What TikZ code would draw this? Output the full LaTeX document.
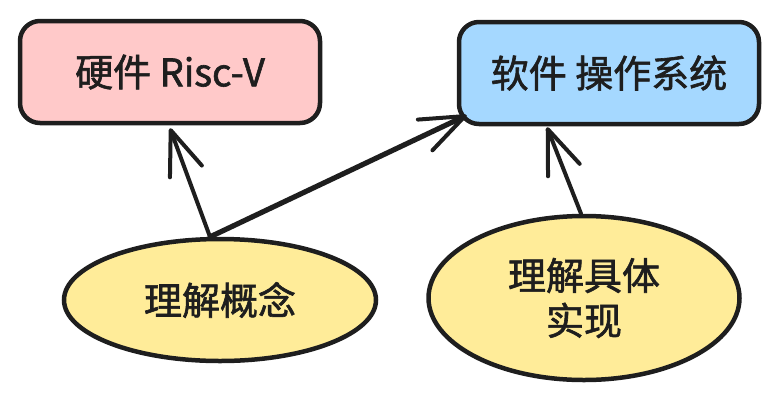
\documentclass[tikz,border=0pt]{standalone}
\usepackage{fontspec}
\newfontfamily\cjk{Noto Sans CJK SC}[FakeBold=1.6]
\usetikzlibrary{shapes.geometric,arrows.meta}
\definecolor{ink}{HTML}{1E1E1E}
\definecolor{redfill}{HTML}{FFC9C9}
\definecolor{bluefill}{HTML}{A5D8FF}
\definecolor{yellowfill}{HTML}{FFEC99}
\tikzset{
  txt/.style={font=\cjk\fontsize{38}{45}\selectfont, text=ink, align=center, inner sep=0pt},
  boxnode/.style={txt, draw=ink, line width=4.5pt, rounded corners=20pt, minimum width=300pt, minimum height=102pt},
  ellnode/.style={txt, ellipse, draw=ink, line width=4.5pt, fill=yellowfill},
  conn/.style={draw=ink, line width=4pt, line cap=round, line join=round,
    -{Straight Barb[length=44pt,width=34pt,line width=4pt,round]}},
}
\begin{document}
\begin{tikzpicture}[x=1pt,y=-1pt]
\useasboundingbox (0,0) rectangle (779,400);
\node[boxnode, fill=redfill] (b1) at (170,72) {硬件 Risc-V};
\node[boxnode, fill=bluefill] (b2) at (609,73) {软件 操作系统};
\node[ellnode, minimum width=312pt, minimum height=122pt] (e1) at (220,300) {理解概念};
\node[ellnode, minimum width=311pt, minimum height=164pt] (e2) at (584,298) {理解具体\\实现};
\draw[conn] (e1.99) -- ([yshift=-3pt]b1.south);
\draw[conn, line width=5.2pt] (e1.99) -- ([shift={(10pt,11pt)}]b2.south west);
\draw[conn] (e2.92) -- ([xshift=-62pt,yshift=-1pt]b2.south);
\end{tikzpicture}
\end{document}
